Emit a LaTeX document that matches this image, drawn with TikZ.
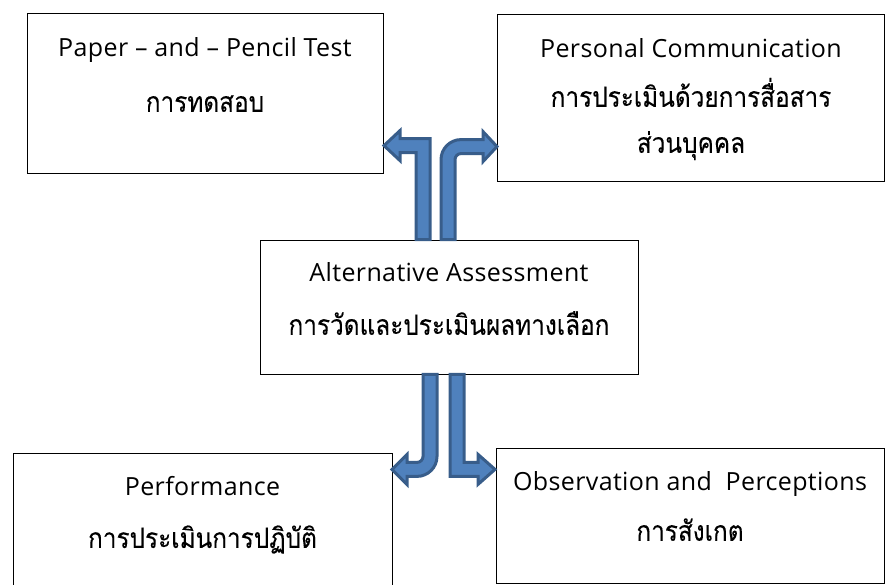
\documentclass[tikz,border=0pt]{standalone}
\usepackage{fontspec}
\setmainfont{Open Sans}[LetterSpace=1.5]
\newfontfamily\thaifont[Script=Thai,FakeStretch=0.87,FakeBold=0.12]{Loma}
\usepackage{tikz}
\usetikzlibrary{positioning}
\definecolor{arrowfill}{HTML}{4F81BD}
\definecolor{arrowline}{HTML}{385D8A}
\newcommand{\thline}[1]{{\thaifont\fontsize{28}{50}\selectfont #1}}
\tikzset{
  box/.style={draw, line width=0.8pt, inner sep=0pt},
  txt/.style={align=center, inner sep=0pt, font=\fontsize{25}{50}\selectfont},
  bent/.style={fill=arrowfill, draw=arrowline, line width=3pt, line join=miter}
}
\begin{document}
\begin{tikzpicture}[x=1pt,y=-1pt]
  \useasboundingbox (0,0) rectangle (886,585);
  \clip (0,0) rectangle (886,585);
  % boxes
  \node[box, minimum width=356pt, minimum height=160pt] (paper) at (205,93) {};
  \node[box, minimum width=387pt, minimum height=167pt] (comm) at (691,97.5) {};
  \node[box, minimum width=378pt, minimum height=134pt] (alt) at (449,307) {};
  \node[box, minimum width=379pt, minimum height=167pt] (perf) at (202.5,536.5) {};
  \node[box, minimum width=388pt, minimum height=135pt] (obs) at (690,515.5) {};
  % texts
  \node[txt, below=25pt of paper.north] (paperTxt) {Paper – and – Pencil Test\\[5pt]\thline{การทดสอบ}};
  \node[txt, below=25pt of comm.north] (commTxt) {Personal Communication\\[-1pt]\thline{การประเมินด้วยการสื่อสาร}\\[-4pt]\thline{ส่วนบุคคล}};
  \node[txt, below=23pt of alt.north] (altTxt) {Alternative Assessment\\[3pt]\thline{การวัดและประเมินผลทางเลือก}};
  \node[txt, below=24pt of perf.north] (perfTxt) {Performance\\[2pt]\thline{การประเมินการปฏิบัติ}};
  \node[txt, below=24pt of obs.north] (obsTxt) {Observation and\ \ Perceptions\\\thline{การสังเกต}};
  % bent arrows out of the middle box
  \begin{scope}[shift={(alt.north)}]
    \draw[bent] (-19,0) -- (-19,-101) -- (-49,-101) -- (-49,-109) -- (-65,-94)
      -- (-49,-79) -- (-49,-87) -- (-33,-87) -- (-33,0) -- cycle;
    \draw[bent] (-8,0) -- (-8,-80) .. controls (-8,-91) and (1,-100) .. (12,-100)
      -- (34,-100) -- (34,-108) -- (48,-93) -- (34,-78) -- (34,-86) -- (12,-86)
      .. controls (8.7,-86) and (6,-83.3) .. (6,-80) -- (6,0) -- cycle;
  \end{scope}
  \begin{scope}[shift={(alt.south)}]
    \draw[bent] (-12,0) -- (-12,82) .. controls (-12,93) and (-21,102) .. (-32,102)
      -- (-42,102) -- (-42,110) -- (-57,95) -- (-42,80) -- (-42,88) -- (-32,88)
      .. controls (-28.7,88) and (-26,85.3) .. (-26,82) -- (-26,0) -- cycle;
    \draw[bent] (1,0) -- (1,102) -- (29,102) -- (29,110) -- (46,95)
      -- (29,80) -- (29,88) -- (15,88) -- (15,0) -- cycle;
  \end{scope}
\end{tikzpicture}
\end{document}
